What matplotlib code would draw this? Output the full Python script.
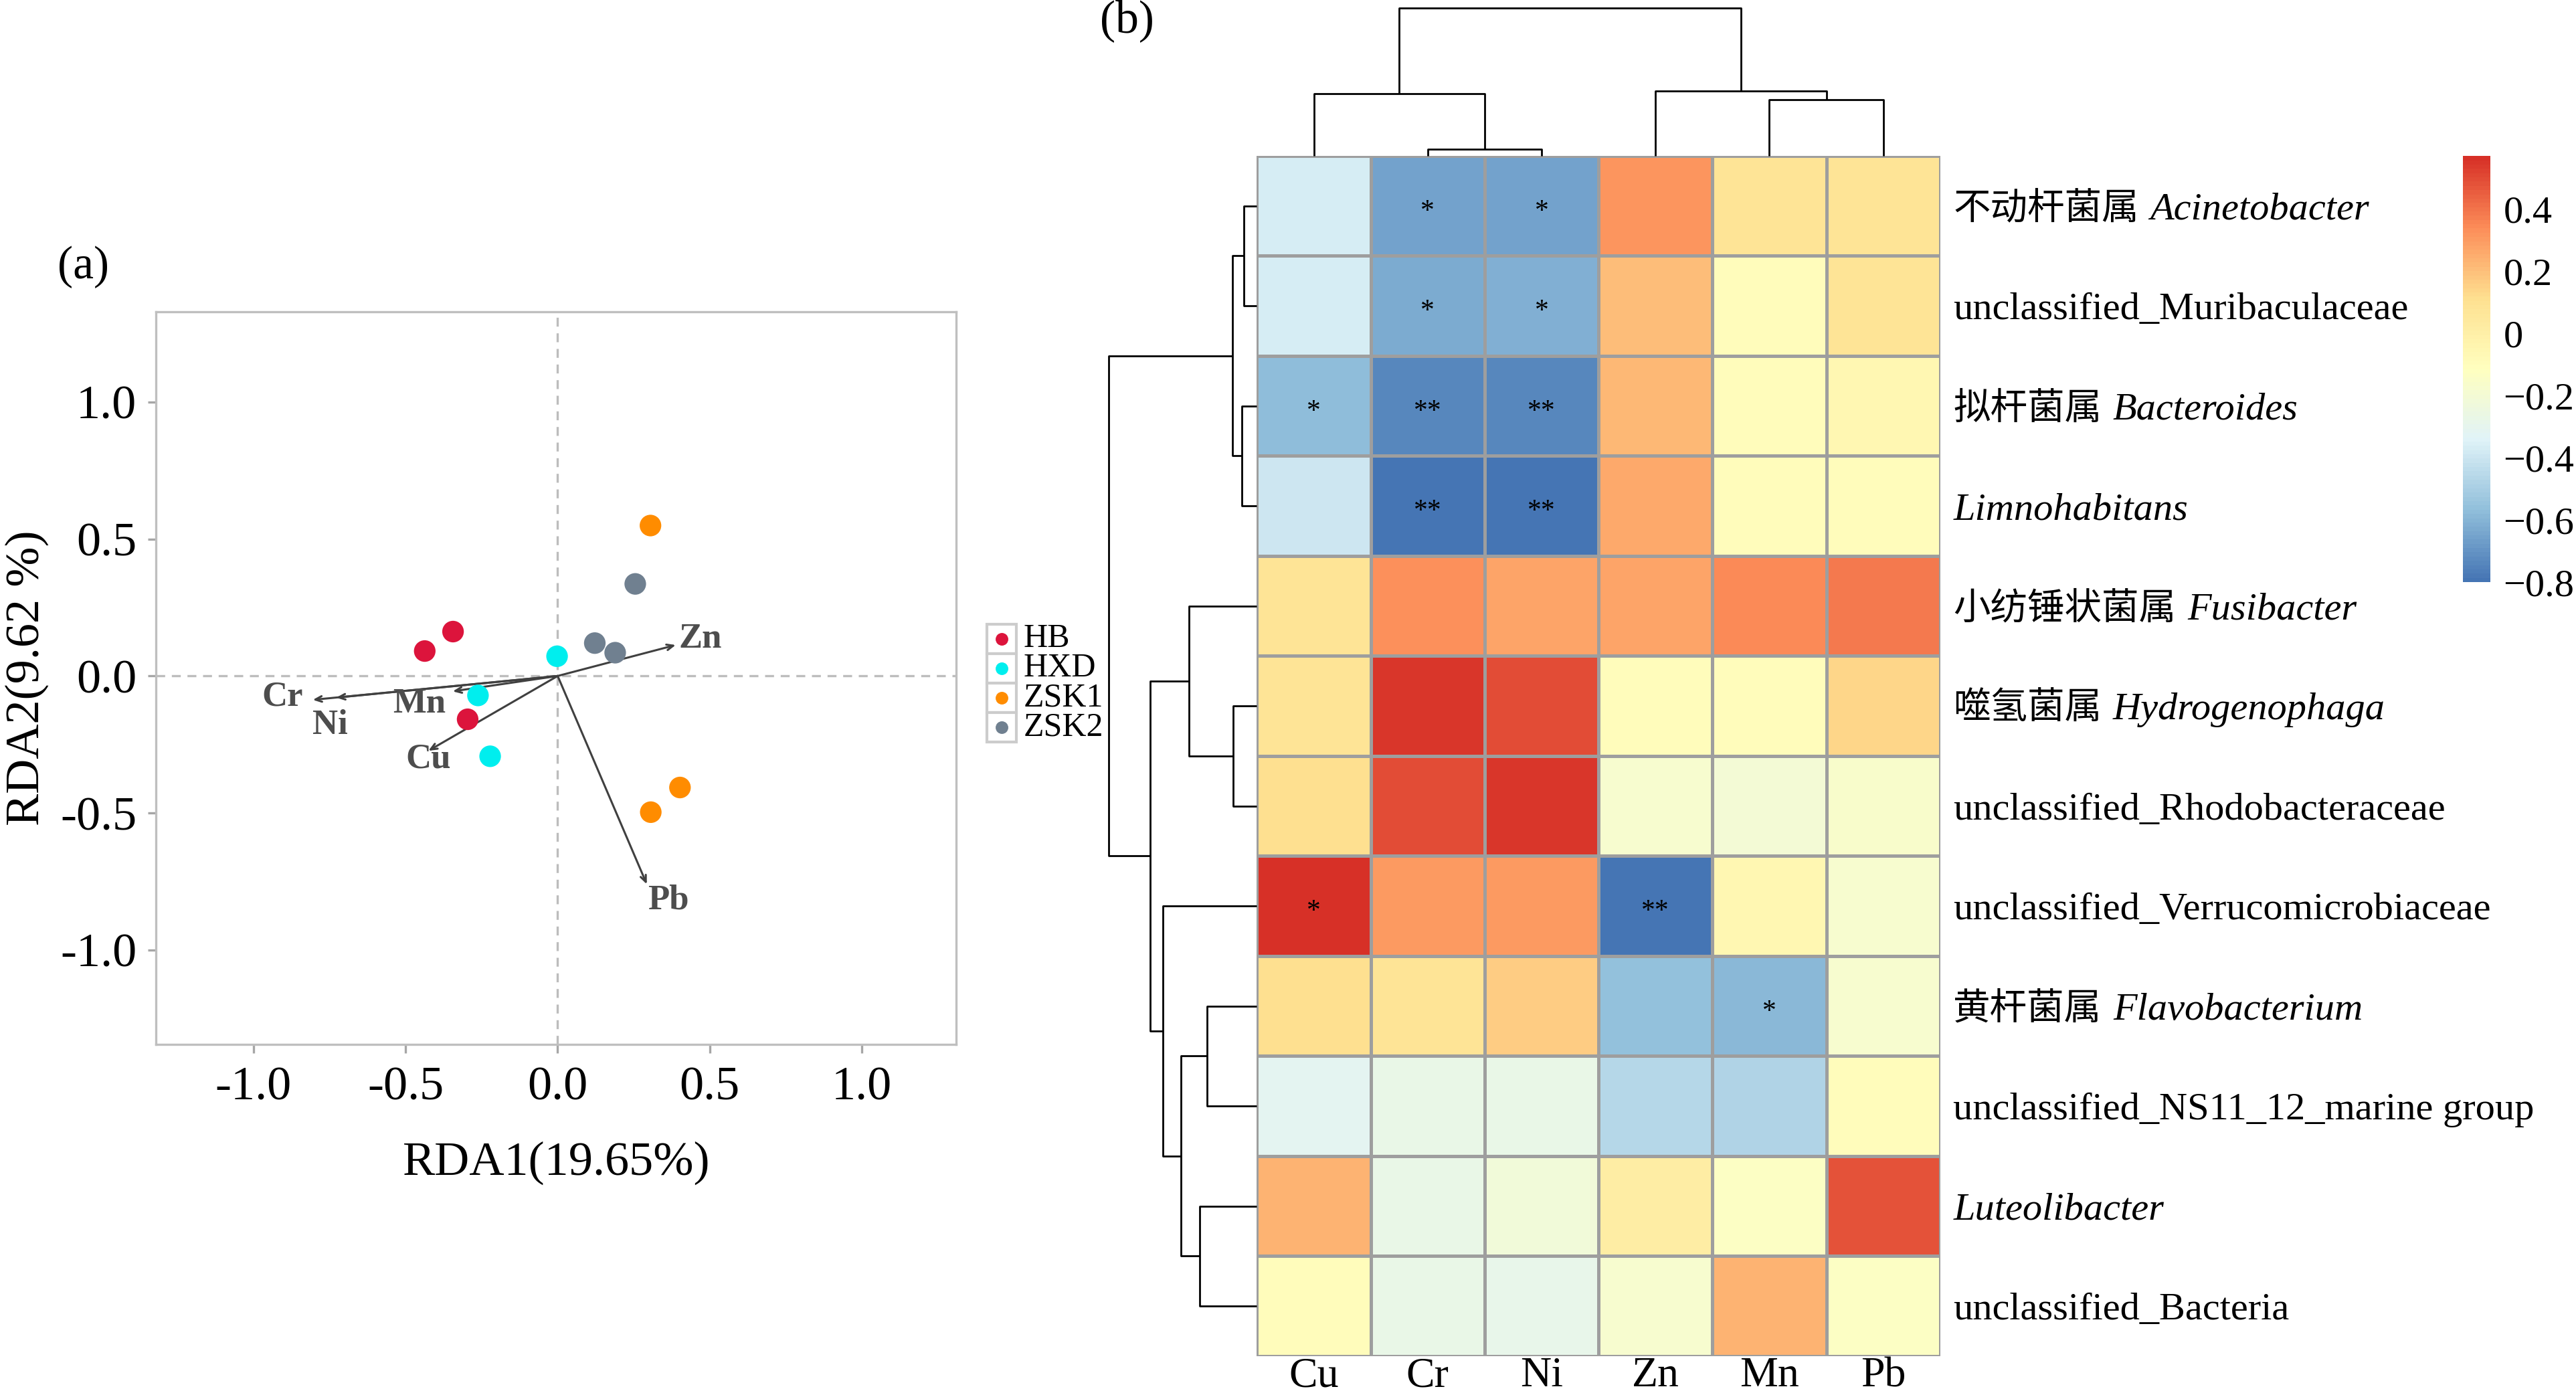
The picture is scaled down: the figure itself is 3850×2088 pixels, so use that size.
import matplotlib
matplotlib.use('Agg')
import matplotlib.pyplot as plt
from matplotlib.colors import LinearSegmentedColormap
from matplotlib.patches import Rectangle
from matplotlib.lines import Line2D
import numpy as np

plt.rcParams['font.family'] = ['Liberation Serif', 'Noto Sans CJK SC']
plt.rcParams['axes.unicode_minus'] = True

# ---------------- (a) RDA ----------------
groups = ['HB', 'HXD', 'ZSK1', 'ZSK2']
group_colors = ['#DC143C', '#00EEEE', '#FF8C00', '#708090']
hb_x = [-0.437, -0.344, -0.296]
hb_y = [0.091, 0.162, -0.158]
hxd_x = [-0.002, -0.262, -0.222]
hxd_y = [0.072, -0.071, -0.293]
zsk1_x = [0.305, 0.402, 0.306]
zsk1_y = [0.549, -0.407, -0.497]
zsk2_x = [0.255, 0.122, 0.189]
zsk2_y = [0.336, 0.120, 0.085]

env_names = ['Cu', 'Cr', 'Ni', 'Zn', 'Mn', 'Pb']
env_x = [-0.425, -0.805, -0.728, 0.388, -0.345, 0.293]
env_y = [-0.273, -0.087, -0.079, 0.113, -0.056, -0.760]

# ---------------- (b) heatmap ----------------
hm_cols = ['Cu', 'Cr', 'Ni', 'Zn', 'Mn', 'Pb']
row_cn = ['不动杆菌属', '', '拟杆菌属', '', '小纺锤状菌属', '噬氢菌属', '', '',
          '黄杆菌属', '', '', '']
row_latin = ['Acinetobacter', 'unclassified_Muribaculaceae', 'Bacteroides',
             'Limnohabitans', 'Fusibacter', 'Hydrogenophaga',
             'unclassified_Rhodobacteraceae', 'unclassified_Verrucomicrobiaceae',
             'Flavobacterium', 'unclassified_NS11_12_marine group',
             'Luteolibacter', 'unclassified_Bacteria']
row_italic = [True, False, True, True, True, True, False, False, True, False,
              True, False]

corr = [
    [-0.37, -0.65, -0.65, 0.32, 0.08, 0.08],
    [-0.37, -0.63, -0.62, 0.21, -0.09, 0.08],
    [-0.58, -0.745, -0.74, 0.22, -0.10, -0.06],
    [-0.39, -0.79, -0.80, 0.265, -0.10, -0.10],
    [0.09, 0.33, 0.27, 0.28, 0.35, 0.39],
    [0.09, 0.55, 0.49, -0.10, -0.10, 0.14],
    [0.11, 0.49, 0.55, -0.17, -0.21, -0.16],
    [0.57, 0.30, 0.30, -0.80, -0.05, -0.18],
    [0.11, 0.09, 0.16, -0.56, -0.59, -0.17],
    [-0.31, -0.27, -0.27, -0.47, -0.48, -0.10],
    [0.24, -0.27, -0.22, 0.02, -0.13, 0.48],
    [-0.10, -0.27, -0.28, -0.18, 0.24, -0.13],
]
stars = [
    ['', '*', '*', '', '', ''],
    ['', '*', '*', '', '', ''],
    ['*', '**', '**', '', '', ''],
    ['', '**', '**', '', '', ''],
    ['', '', '', '', '', ''],
    ['', '', '', '', '', ''],
    ['', '', '', '', '', ''],
    ['*', '', '', '**', '', ''],
    ['', '', '', '', '*', ''],
    ['', '', '', '', '', ''],
    ['', '', '', '', '', ''],
    ['', '', '', '', '', ''],
]
# arboles (izq, der, altura); hojas = indice
col_tree = ((0, (1, 2, 0.045), 0.42), (3, (4, 5, 0.38), 0.44), 1.0)
row_tree = (((0, 1, 0.088), (2, 3, 0.103), 0.166),
            ((4, (5, 6, 0.159), 0.458),
             (7, ((8, 9, 0.335), (10, 11, 0.388), 0.514), 0.634), 0.722), 1.0)
cbar_ticks = [0.4, 0.2, 0, -0.2, -0.4, -0.6, -0.8]
cbar_labels = ['0.4', '0.2', '0', '\u22120.2', '\u22120.4', '\u22120.6', '\u22120.8']
vmin, vmax = -0.8, 0.57


def draw_tree(ax, node, orient):
    """
    Dibuja un dendrograma recursivamente, retorna (posicion, altura)
    """
    if isinstance(node, int):
        return node + 0.5, 0.0
    left, right, h = node
    pl, hl = draw_tree(ax, left, orient)
    pr, hr = draw_tree(ax, right, orient)
    xs = [pl, pl, pr, pr]
    ys = [hl, h, h, hr]
    if orient == 'top':
        ax.plot(xs, ys, color='black', lw=1.0, clip_on=False,
                solid_capstyle='butt')
    else:
        ax.plot(ys, xs, color='black', lw=1.0, clip_on=False,
                solid_capstyle='butt')
    return (pl + pr) / 2.0, h


fig = plt.figure(figsize=(19.25, 10.44), dpi=200)

# RDA
ax = fig.add_axes([0.0606, 0.2523, 0.3106, 0.5247])
ax.axhline(0, color='#BDBDBD', lw=1.2, ls=(0, (4, 3)), zorder=1)
ax.axvline(0, color='#BDBDBD', lw=1.2, ls=(0, (4, 3)), zorder=1)
for gx, gy, c in zip([hb_x, hxd_x, zsk1_x, zsk2_x],
                     [hb_y, hxd_y, zsk1_y, zsk2_y], group_colors):
    ax.scatter(gx, gy, s=135, color=c, edgecolors='none', zorder=3)
for ex, ey in zip(env_x, env_y):
    ax.annotate('', xy=(ex, ey), xytext=(0, 0),
                arrowprops=dict(arrowstyle='->,head_length=0.35,head_width=0.15',
                                color='#404040', lw=1.1, shrinkA=0, shrinkB=0),
                zorder=2)
lab_dx = [0.0, -0.10, -0.02, 0.08, -0.11, 0.07]
lab_dy = [-0.03, 0.01, -0.10, 0.022, -0.045, -0.058]
for name, ex, ey, dx, dy in zip(env_names, env_x, env_y, lab_dx, lab_dy):
    ax.text(ex + dx, ey + dy, name, fontsize=19, fontweight='bold',
            color='#4D4D4D', ha='center', va='center', zorder=4)
ax.set_xlim(-1.32, 1.31)
ax.set_ylim(-1.345, 1.33)
ax.set_xticks([-1.0, -0.5, 0.0, 0.5, 1.0])
ax.set_yticks([-1.0, -0.5, 0.0, 0.5, 1.0])
ax.xaxis.set_major_formatter(matplotlib.ticker.FormatStrFormatter('%.1f'))
ax.yaxis.set_major_formatter(matplotlib.ticker.FormatStrFormatter('%.1f'))
for s in ax.spines.values():
    s.set_color('#BFBFBF')
    s.set_linewidth(1.2)
ax.tick_params(axis='both', colors='#A6A6A6', length=4.5, width=1.2,
               labelcolor='black', labelsize=26)
ax.tick_params(axis='x', pad=7)
ax.tick_params(axis='y', pad=6)
ax.set_xlabel('RDA1(19.65%)', fontsize=26, labelpad=17)
ax.set_ylabel('RDA2(9.62 %)', fontsize=26, labelpad=6)
fig.text(0.0223, 0.8087, '(a)', fontsize=25, ha='left', va='center')

# leyenda
kx, kw, kh = 0.3831, 0.01143, 0.02107
ktop = 0.5532
for i, (g, c) in enumerate(zip(groups, group_colors)):
    y0 = ktop - (i + 1) * kh
    fig.add_artist(Rectangle((kx, y0), kw, kh, transform=fig.transFigure,
                             facecolor='white', edgecolor='#CCCCCC', lw=1.5))
    fig.add_artist(Line2D([kx + kw / 2], [y0 + kh / 2], marker='o', ms=6.8,
                          color=c, mec='none', transform=fig.transFigure))
    fig.text(kx + kw + 0.0028, y0 + kh / 2, g, fontsize=18, va='center',
             ha='left')

# heatmap
cmap = LinearSegmentedColormap.from_list(
    'rdylbu7', ['#4575B4', '#91BFDB', '#E0F3F8', '#FFFFBF', '#FEE090',
                '#FC8D59', '#D73027'], N=100)
hm = fig.add_axes([0.4879, 0.0293, 0.2653, 0.8592])
data = np.array(corr)
hm.pcolormesh(np.arange(len(hm_cols) + 1), np.arange(len(row_latin) + 1), data,
              cmap=cmap, vmin=vmin, vmax=vmax, edgecolors='#9E9E9E',
              linewidth=1.2)
hm.set_xlim(0, len(hm_cols))
hm.set_ylim(len(row_latin), 0)
for s in hm.spines.values():
    s.set_visible(False)
hm.set_yticks([])
hm.set_xticks(np.arange(len(hm_cols)) + 0.5)
hm.set_xticklabels(hm_cols, fontsize=23)
hm.tick_params(axis='x', length=0, pad=0.5)
for i in range(len(row_latin)):
    for j in range(len(hm_cols)):
        if stars[i][j]:
            hm.text(j + 0.5, i + 0.56, stars[i][j], fontsize=15, ha='center',
                    va='center')

# etiquetas de filas (chino normal + latin cursiva)
renderer = fig.canvas.get_renderer()
for i, (cn, la, it) in enumerate(zip(row_cn, row_latin, row_italic)):
    px, py = hm.transData.transform((len(hm_cols), i + 0.5))
    x0 = px + 7 * fig.dpi / 72.0
    yb = py - 7.2 * fig.dpi / 72.0
    if cn:
        t = fig.text(x0 / fig.bbox.width, yb / fig.bbox.height, cn,
                     family=['Noto Sans CJK SC'], fontsize=20, va='baseline',
                     ha='left')
        bb = t.get_window_extent(renderer)
        x0 = bb.x1 + 6 * fig.dpi / 72.0
    fig.text(x0 / fig.bbox.width, yb / fig.bbox.height, la, fontsize=21,
             style='italic' if it else 'normal', va='baseline', ha='left')

# dendrogramas
cd = fig.add_axes([0.4879, 0.8885, 0.2653, 0.1056])
draw_tree(cd, col_tree, 'top')
cd.set_xlim(0, len(hm_cols))
cd.set_ylim(0, 1.0)
cd.axis('off')

rd = fig.add_axes([0.4305, 0.0293, 0.0574, 0.8592])
draw_tree(rd, row_tree, 'left')
rd.set_xlim(1.0, 0)
rd.set_ylim(len(row_latin), 0)
rd.axis('off')

fig.text(0.427, 0.985, '(b)', fontsize=25, ha='left', va='center')

# barra de color
cax = fig.add_axes([0.956, 0.5833, 0.0108, 0.305])
sm = plt.cm.ScalarMappable(cmap=cmap, norm=plt.Normalize(vmin, vmax))
cb = fig.colorbar(sm, cax=cax, ticks=cbar_ticks)
cb.set_ticklabels(cbar_labels)
cb.outline.set_visible(False)
cax.tick_params(length=0, labelsize=21, pad=7)

fig.savefig('out.png', dpi=200)
